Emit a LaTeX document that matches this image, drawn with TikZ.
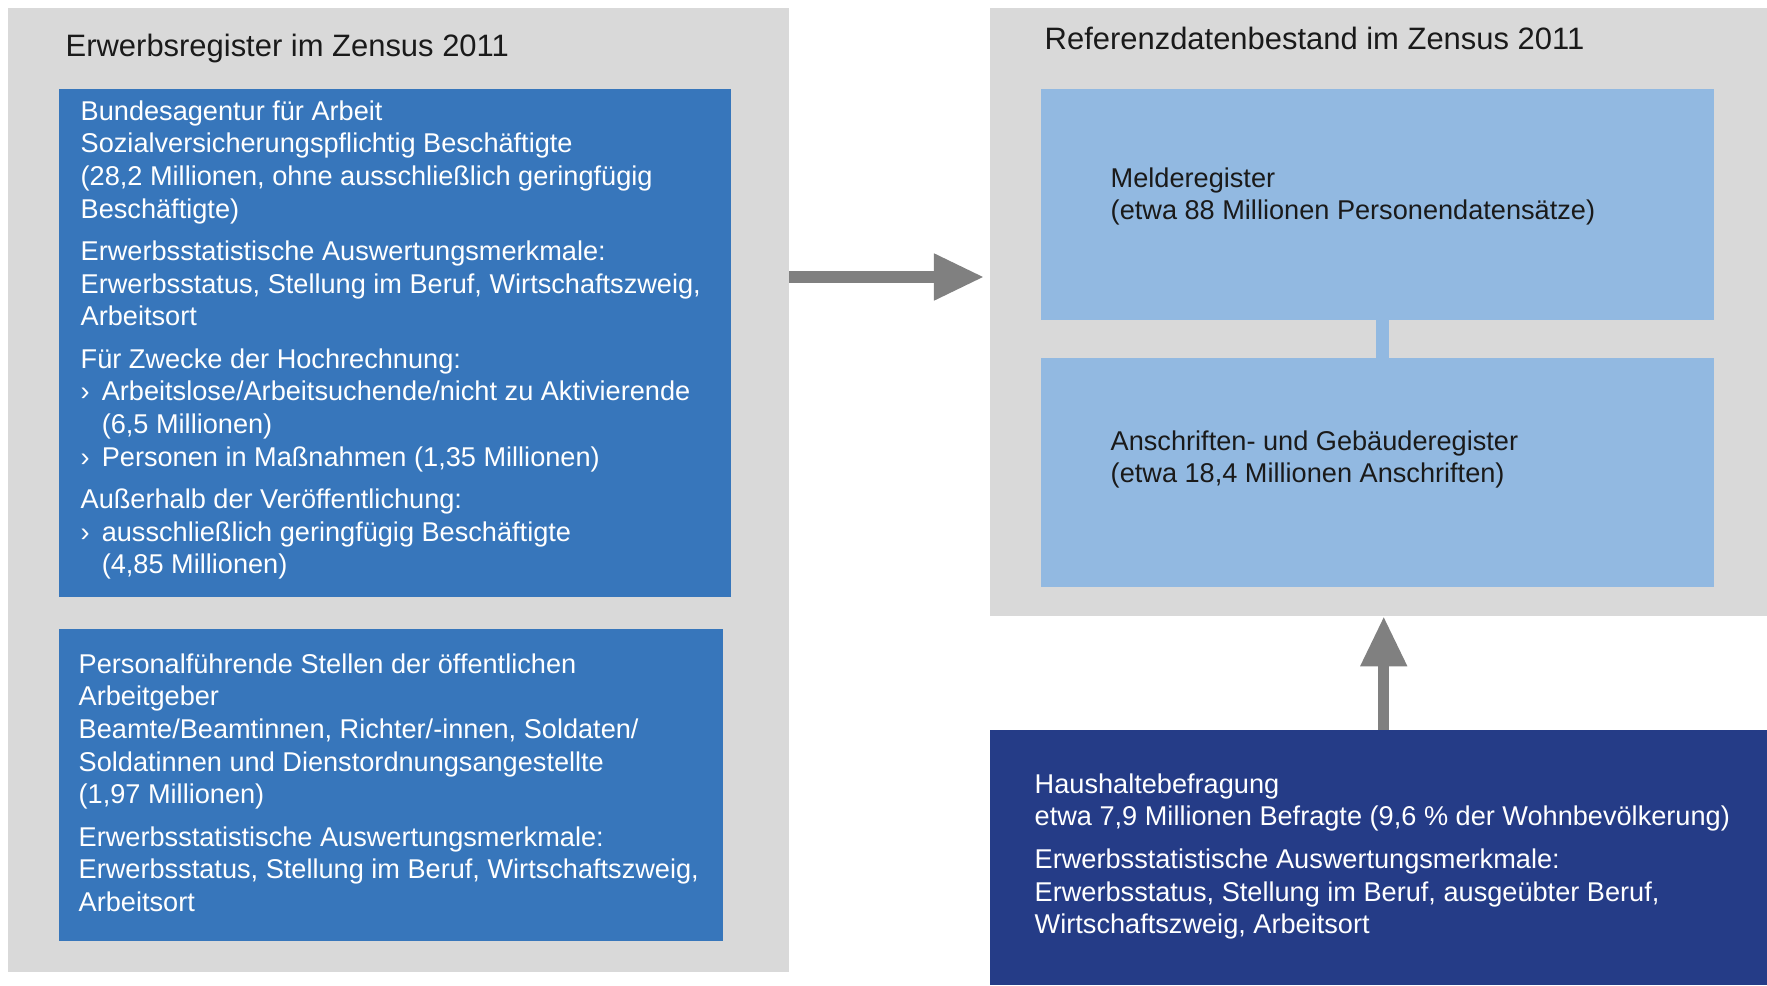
\documentclass[tikz,border=0pt]{standalone}
\usepackage{fontspec}
\setmainfont{Liberation Sans}
\usepackage{xcolor}
\usepackage{tikz}
\usetikzlibrary{arrows.meta,positioning}
\definecolor{CensusGrey}{HTML}{D9D9D9}
\definecolor{CensusBlue}{HTML}{3776BB}
\definecolor{CensusLight}{HTML}{92B9E1}
\definecolor{CensusNavy}{HTML}{253C87}
\definecolor{CensusArrow}{HTML}{808080}
\definecolor{CensusInk}{HTML}{1A1A1A}
\newcommand{\bodyfont}{\fontsize{7.72}{9.27}\selectfont}
\newcommand{\headfont}{\fontsize{8.8}{10}\selectfont}
\newcommand{\pgap}{\\[2.8pt]}
\newcommand{\itm}{\makebox[6pt][l]{›}}
\newcommand{\itmgap}{\hspace*{6pt}}
\tikzset{
  block/.style={
    anchor=north west,
    inner sep=0pt,
    outer sep=0pt
  },
  panel/.style={block,fill=CensusGrey},
  regbox/.style={block,fill=CensusBlue},
  refbox/.style={block,fill=CensusLight},
  surveybox/.style={block,fill=CensusNavy},
  boxtext/.style={anchor=north west,inner sep=0pt,align=left,font=\bodyfont},
  headline/.style={anchor=base west,inner sep=0pt,font=\headfont,text=CensusInk},
  flowarrow/.style={-{Triangle[length=0.5cm,width=0.44cm]},line width=0.11cm,draw=CensusArrow},
  linkbar/.style={line width=0.13cm,draw=CensusLight}
}
\begin{document}
\begin{tikzpicture}[x=0.01cm,y=-0.01cm]
    \useasboundingbox (0,0) rectangle (1767,985);

    % grey frames
    \node[panel,minimum width=7.81cm,minimum height=9.63cm] (erwpanel) at (8,8) {};
    \node[panel,minimum width=7.77cm,minimum height=6.08cm] (refpanel) at (990,8) {};
    \node[headline] (erwtitle) at (65,57) {Erwerbsregister im Zensus 2011};
    \node[headline] (reftitle) at (1044,50) {Referenzdatenbestand im Zensus 2011};

    % left side: registers
    \node[regbox,minimum width=6.72cm,minimum height=5.08cm] (ba) at (59,89) {};
    \node[regbox,minimum width=6.64cm,minimum height=3.12cm] (pst) at (59,629) {};
    \node[boxtext,text=white] (batext) at (80,100) {Bundesagentur für Arbeit\\
      Sozialversicherungspflichtig Beschäftigte\\
      (28,2 Millionen, ohne ausschließlich geringfügig\\
      Beschäftigte)\pgap
      Erwerbsstatistische Auswertungsmerkmale:\\
      Erwerbsstatus, Stellung im Beruf, Wirtschaftszweig,\\
      Arbeitsort\pgap
      Für Zwecke der Hochrechnung:\\
      \itm Arbeitslose/Arbeitsuchende/nicht zu Aktivierende\\
      \itmgap(6,5 Millionen)\\
      \itm Personen in Maßnahmen (1,35 Millionen)\pgap
      Außerhalb der Veröffentlichung:\\
      \itm ausschließlich geringfügig Beschäftigte\\
      \itmgap(4,85 Millionen)};
    \node[boxtext,text=white] (psttext) at (78,653) {Personalführende Stellen der öffentlichen\\
      Arbeitgeber\\
      Beamte/Beamtinnen, Richter/-innen, Soldaten/\\
      Soldatinnen und Dienstordnungsangestellte\\
      (1,97 Millionen)\pgap
      Erwerbsstatistische Auswertungsmerkmale:\\
      Erwerbsstatus, Stellung im Beruf, Wirtschaftszweig,\\
      Arbeitsort};

    % right side: reference data
    \node[refbox,minimum width=6.73cm,minimum height=2.31cm] (melde) at (1041,89) {};
    \node[refbox,minimum width=6.73cm,minimum height=2.29cm] (agr) at (1041,358) {};
    \node[boxtext,text=CensusInk] (meldetext) at (1110,167) {Melderegister\\
      (etwa 88 Millionen Personendatensätze)};
    \node[boxtext,text=CensusInk] (agrtext) at (1110,430) {Anschriften- und Gebäuderegister\\
      (etwa 18,4 Millionen Anschriften)};

    % household survey
    \node[surveybox,minimum width=7.77cm,minimum height=2.55cm] (hhb) at (990,730) {};
    \node[boxtext,text=white] (hhbtext) at (1034,773) {Haushaltebefragung\\
      etwa 7,9 Millionen Befragte (9,6~\% der Wohnbevölkerung)\pgap
      Erwerbsstatistische Auswertungsmerkmale:\\
      Erwerbsstatus, Stellung im Beruf, ausgeübter Beruf,\\
      Wirtschaftszweig, Arbeitsort};

    \coordinate (arrowrow) at (0,277);
    \draw[linkbar] ([xshift=0.05cm]melde.south) -- ([xshift=0.05cm]agr.north);
    \draw[flowarrow] (erwpanel.east |- arrowrow) -- ([xshift=-0.06cm]refpanel.west |- arrowrow);
    \draw[flowarrow] ([xshift=0.05cm]hhb.north) -- ([xshift=0.05cm]refpanel.south);
  \end{tikzpicture}
\end{document}
